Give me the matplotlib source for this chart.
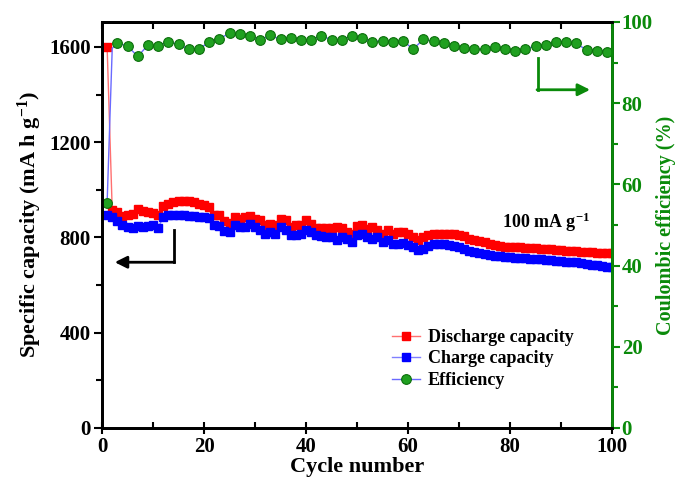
import matplotlib.pyplot as plt
import numpy as np
from matplotlib.ticker import MultipleLocator

# data
cycles = list(range(1, 101))
discharge = [1600, 915, 907, 890, 896, 900, 918, 910, 906, 903,
             893, 932, 942, 949, 952, 955, 952, 947, 942, 938,
             928, 893, 893, 868, 862, 886, 879, 884, 889, 876,
             872, 851, 858, 854, 879, 872, 844, 851, 851, 872,
             858, 840, 840, 840, 838, 844, 840, 823, 816, 847,
             851, 837, 844, 830, 816, 830, 816, 823, 823, 816,
             800, 791, 802, 809, 816, 816, 816, 816, 813, 809,
             805, 795, 788, 784, 779, 774, 769, 764, 762, 760,
             759, 758, 757, 756, 755, 753, 752, 750, 749, 747,
             745, 743, 742, 740, 739, 737, 736, 735, 734, 733]
charge = [896, 886, 868, 851, 844, 840, 848, 844, 848, 851,
          840, 886, 893, 896, 896, 893, 890, 890, 886, 884,
          883, 854, 848, 826, 823, 851, 844, 844, 855, 844,
          830, 816, 823, 816, 844, 830, 809, 812, 816, 830,
          823, 809, 806, 804, 804, 788, 804, 795, 781, 809,
          816, 802, 795, 802, 781, 788, 774, 774, 777, 767,
          760, 749, 753, 763, 771, 774, 774, 770, 764, 760,
          753, 743, 738, 735, 731, 728, 724, 721, 718, 716,
          715, 714, 712, 711, 710, 708, 706, 704, 703, 701,
          699, 697, 695, 692, 689, 686, 684, 681, 678, 676]
eff_cycles = [1, 2] + list(range(3, 100, 2))
efficiency = [55.5, 93.5,
              94.8, 94.1, 91.5, 94.3, 94.1, 95.1, 94.5, 93.3, 93.3, 95.1,
              95.9, 97.2, 97.0, 96.6, 95.6, 96.7, 95.7, 96.1, 95.6, 95.6,
              96.6, 95.6, 95.6, 96.6, 96.0, 95.1, 95.4, 95.1, 95.4, 93.3,
              95.7, 95.2, 94.7, 94.1, 93.7, 93.3, 93.3, 93.9, 93.3, 92.9,
              93.3, 94.1, 94.3, 95.0, 95.0, 94.7, 93.1, 92.9, 92.7]

plt.rcParams['font.family'] = ['Liberation Serif', 'DejaVu Serif']
plt.rcParams['font.weight'] = 'bold'
plt.rcParams['axes.labelweight'] = 'bold'
plt.rcParams['mathtext.fontset'] = 'custom'
plt.rcParams['mathtext.rm'] = 'Liberation Serif:bold'
plt.rcParams['mathtext.default'] = 'rm'

green = '#0a8a0a'

fig = plt.figure(figsize=(6.77, 4.88), dpi=100)
ax = fig.add_axes([0.1507, 0.123, 0.7533, 0.832])
ax2 = ax.twinx()

l1, = ax.plot(cycles, discharge, color='#ff7070', lw=1, marker='s', ms=5.2,
              mfc='red', mec='red', label='Discharge capacity')
l2, = ax.plot(cycles, charge, color='#8080ff', lw=1, marker='s', ms=5.2,
              mfc='blue', mec='blue', label='Charge capacity')
marks = [i for i in range(len(eff_cycles)) if i != 1]
l3, = ax2.plot(eff_cycles, efficiency, color='#6a6aff', lw=1, marker='o', ms=7,
               mfc='#20a020', mec='#0b6e0b', mew=0.8, markevery=marks,
               label='Efficiency')

ax.set_xlim(0, 100)
ax.set_ylim(0, 1705)
ax2.set_ylim(0, 100)

ax.xaxis.set_major_locator(MultipleLocator(20))
ax.xaxis.set_minor_locator(MultipleLocator(10))
ax.yaxis.set_major_locator(MultipleLocator(400))
ax.yaxis.set_minor_locator(MultipleLocator(200))
ax2.yaxis.set_major_locator(MultipleLocator(20))
ax2.yaxis.set_minor_locator(MultipleLocator(10))

ax.tick_params(axis='x', which='major', direction='inout', length=9, width=1.5,
               labelsize=15, pad=2)
ax.tick_params(axis='x', which='minor', direction='in', length=4, width=1.5)
ax.tick_params(axis='y', which='major', direction='out', length=6, width=1.5,
               labelsize=15, pad=2)
ax.tick_params(axis='y', which='minor', direction='out', length=4, width=1.5)
ax2.tick_params(axis='y', which='major', direction='out', length=6, width=1.5,
                colors=green, labelsize=15, pad=1)
ax2.tick_params(axis='y', which='minor', direction='out', length=4, width=1.5,
                colors=green)

top = ax.secondary_xaxis('top')
top.xaxis.set_major_locator(MultipleLocator(10))
top.tick_params(direction='in', length=5, width=1.5, labeltop=False)

for a in (ax, ax2):
    for s in a.spines.values():
        s.set_linewidth(2)
ax2.spines['right'].set_color(green)
top.spines['top'].set_linewidth(2)

ax.set_xlabel('Cycle number', fontsize=16, fontweight='bold', labelpad=0)
ax.set_ylabel('Specific capacity (mA h g$^{-1}$)', fontsize=16,
              fontweight='bold', labelpad=4)
ax2.set_ylabel('Coulombic efficiency (%)', fontsize=14.5, fontweight='bold',
               color=green, labelpad=2)

ax.text(87, 862, '100 mA g$^{-1}$', fontsize=13, ha='center', va='center')

# black arrow pointing to the left axis
ax.plot([14.1, 14.1], [830, 696], color='black', lw=2)
ax.annotate('', xy=(2.5, 696), xytext=(14.2, 696),
            arrowprops=dict(arrowstyle='-|>', color='black', lw=2,
                            mutation_scale=18, shrinkA=0, shrinkB=0))
# green arrow pointing to the right axis
ax2.plot([85.4, 85.4], [91.1, 83.3], color=green, lw=2)
ax2.annotate('', xy=(95.7, 83.3), xytext=(85.3, 83.3),
             arrowprops=dict(arrowstyle='-|>', color=green, lw=2,
                             mutation_scale=18, shrinkA=0, shrinkB=0))

ax2.legend(handles=[l1, l2, l3], loc='center left', bbox_to_anchor=(0.55, 0.17),
           frameon=False, fontsize=13, handlelength=1.6, handletextpad=0.4,
           labelspacing=0.25, borderpad=0)

fig.savefig('out.png', dpi=100)
